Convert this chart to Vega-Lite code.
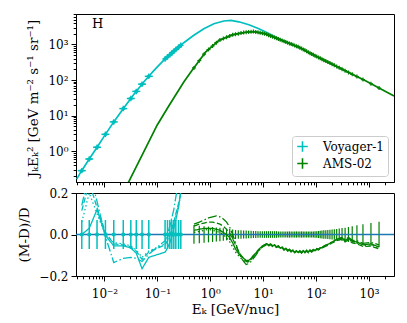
{
"$schema": "https://vega.github.io/schema/vega-lite/v6.json",
"padding": {"left": 17, "top": 7, "right": 10, "bottom": 4},
"spacing": 11,
"bounds": "flush",
"resolve": {"scale": {"color": "independent", "strokeDash": "independent"}, "legend": {"color": "independent", "strokeDash": "independent"}},
"config": {
 "font": "DejaVu Serif",
 "view": {"stroke": "black", "strokeWidth": 1},
 "axis": {"domainColor": "black", "domainWidth": 1, "tickColor": "black", "tickWidth": 1, "labelColor": "black", "titleColor": "black", "labelFont": "DejaVu Serif", "titleFont": "DejaVu Serif", "labelFontSize": 12, "titleFontSize": 13.5, "titleFontWeight": "normal", "grid": false, "labelOverlap": false, "labelFlush": false, "labelPadding": 3},
 "legend": {"labelFont": "DejaVu Serif", "labelFontSize": 12, "labelColor": "black"}
},
"datasets": {
 "voyModel": [
  {"E": 0.00299, "v": 0.162}, {"E": 0.00356, "v": 0.255}, {"E": 0.00505, "v": 0.57}, {"E": 0.00715, "v": 1.24}, {"E": 0.01013, "v": 2.77}, {"E": 0.015, "v": 6.63}, {"E": 0.0232, "v": 16.4}, {"E": 0.0358, "v": 39.2}, {"E": 0.0553, "v": 87.7}, {"E": 0.0857, "v": 184}, {"E": 0.1324, "v": 363}, {"E": 0.2048, "v": 649}, {"E": 0.316, "v": 1123}, {"E": 0.489, "v": 1824}, {"E": 0.756, "v": 2772}, {"E": 1.17, "v": 3828}, {"E": 1.81, "v": 4590}, {"E": 2.45, "v": 4740}, {"E": 3.47, "v": 4350}, {"E": 5.37, "v": 3590}, {"E": 8.3, "v": 2772}, {"E": 12.8, "v": 2032}, {"E": 19.8, "v": 1440}, {"E": 30.7, "v": 1090}
 ],
 "amsModel": [
  {"E": 0.0264, "v": 0.106}, {"E": 0.031, "v": 0.171}, {"E": 0.0553, "v": 0.957}, {"E": 0.0989, "v": 5.36}, {"E": 0.1644, "v": 18.6}, {"E": 0.316, "v": 87.7}, {"E": 0.454, "v": 187}, {"E": 0.815, "v": 608}, {"E": 1.45, "v": 1295}, {"E": 2.59, "v": 1857}, {"E": 4.65, "v": 2213}, {"E": 6.67, "v": 2312}, {"E": 11.1, "v": 1982}, {"E": 19.8, "v": 1408}, {"E": 30.7, "v": 1087}, {"E": 47.4, "v": 840}, {"E": 83.6, "v": 535}, {"E": 200, "v": 281}, {"E": 367, "v": 178}, {"E": 878, "v": 93.5}, {"E": 1545, "v": 59.6}, {"E": 2972, "v": 35.6}
 ],
 "voy": [
  {"E": 0.00373, "elo": 0.00313, "ehi": 0.00444, "f": 0.282, "rlo": -0.07, "rhi": 0.07, "m1": 0.0, "m2": 0.115, "m3": 0.06, "m4": 0.14},
  {"E": 0.00516, "elo": 0.00434, "ehi": 0.00614, "f": 0.599, "rlo": -0.07, "rhi": 0.07, "m1": 0.03, "m2": 0.25, "m3": 0.2, "m4": 0.3},
  {"E": 0.00724, "elo": 0.00608, "ehi": 0.00862, "f": 1.28, "rlo": -0.07, "rhi": 0.07, "m1": 0.12, "m2": 0.13, "m3": 0.1, "m4": 0.16},
  {"E": 0.01044, "elo": 0.00877, "ehi": 0.01242, "f": 2.96, "rlo": -0.07, "rhi": 0.07, "m1": -0.005, "m2": 0.01, "m3": 0.0, "m4": -0.01},
  {"E": 0.015, "elo": 0.0126, "ehi": 0.01785, "f": 6.63, "rlo": -0.07, "rhi": 0.07, "m1": -0.055, "m2": -0.045, "m3": -0.04, "m4": -0.135},
  {"E": 0.0227, "elo": 0.0191, "ehi": 0.027, "f": 15.7, "rlo": -0.07, "rhi": 0.07, "m1": -0.055, "m2": -0.05, "m3": -0.045, "m4": -0.115},
  {"E": 0.0315, "elo": 0.0265, "ehi": 0.0375, "f": 30.2, "rlo": -0.07, "rhi": 0.07, "m1": -0.065, "m2": -0.06, "m3": -0.055, "m4": -0.11},
  {"E": 0.04, "elo": 0.0336, "ehi": 0.0476, "f": 47.8, "rlo": -0.07, "rhi": 0.07, "m1": -0.09, "m2": -0.08, "m3": -0.075, "m4": -0.115},
  {"E": 0.0514, "elo": 0.0432, "ehi": 0.0612, "f": 76.6, "rlo": -0.07, "rhi": 0.07, "m1": -0.165, "m2": -0.12, "m3": -0.11, "m4": -0.13},
  {"E": 0.0689, "elo": 0.0579, "ehi": 0.082, "f": 127, "rlo": -0.07, "rhi": 0.07, "m1": -0.11, "m2": -0.085, "m3": -0.08, "m4": -0.095},
  {"E": 0.14, "elo": 0.1296, "ehi": 0.1512, "f": 392, "rlo": -0.07, "rhi": 0.07, "m1": -0.085, "m2": -0.05, "m3": -0.045, "m4": -0.03},
  {"E": 0.1555, "elo": 0.144, "ehi": 0.168, "f": 449, "rlo": -0.07, "rhi": 0.07, "m1": -0.065, "m2": -0.03, "m3": -0.03, "m4": 0.0},
  {"E": 0.172, "elo": 0.159, "ehi": 0.186, "f": 514, "rlo": -0.07, "rhi": 0.07, "m1": -0.04, "m2": 0.0, "m3": 0.0, "m4": 0.04},
  {"E": 0.1875, "elo": 0.1736, "ehi": 0.2025, "f": 578, "rlo": -0.07, "rhi": 0.07, "m1": -0.01, "m2": 0.03, "m3": 0.02, "m4": 0.08},
  {"E": 0.2046, "elo": 0.1894, "ehi": 0.221, "f": 649, "rlo": -0.07, "rhi": 0.07, "m1": 0.03, "m2": 0.06, "m3": 0.05, "m4": 0.12},
  {"E": 0.2233, "elo": 0.2068, "ehi": 0.2412, "f": 724, "rlo": -0.07, "rhi": 0.07, "m1": 0.07, "m2": 0.1, "m3": 0.09, "m4": 0.18},
  {"E": 0.2512, "elo": 0.2326, "ehi": 0.2713, "f": 840, "rlo": -0.07, "rhi": 0.07, "m1": 0.13, "m2": 0.15, "m3": 0.14, "m4": 0.25},
  {"E": 0.2775, "elo": 0.257, "ehi": 0.2997, "f": 950, "rlo": -0.07, "rhi": 0.07, "m1": 0.21, "m2": 0.2, "m3": 0.19, "m4": 0.3}
 ],
 "ams": [
  {"E": 0.492, "f": 219, "rlo": -0.045, "rhi": 0.045, "m1": 0.02, "m2": 0.04, "m3": 0.01, "m4": 0.05},
  {"E": 0.621, "f": 351, "rlo": -0.042, "rhi": 0.042, "m1": 0.025, "m2": 0.05, "m3": 0.015, "m4": 0.06},
  {"E": 0.764, "f": 535, "rlo": -0.04, "rhi": 0.04, "m1": 0.03, "m2": 0.055, "m3": 0.02, "m4": 0.07},
  {"E": 0.925, "f": 719, "rlo": -0.038, "rhi": 0.038, "m1": 0.03, "m2": 0.06, "m3": 0.025, "m4": 0.08},
  {"E": 1.105, "f": 908, "rlo": -0.036, "rhi": 0.036, "m1": 0.03, "m2": 0.06, "m3": 0.02, "m4": 0.085},
  {"E": 1.303, "f": 1123, "rlo": -0.034, "rhi": 0.034, "m1": 0.025, "m2": 0.055, "m3": 0.015, "m4": 0.09},
  {"E": 1.523, "f": 1337, "rlo": -0.032, "rhi": 0.032, "m1": 0.02, "m2": 0.05, "m3": 0.01, "m4": 0.085},
  {"E": 1.765, "f": 1463, "rlo": -0.03, "rhi": 0.03, "m1": 0.01, "m2": 0.04, "m3": 0.0, "m4": 0.075},
  {"E": 2.034, "f": 1592, "rlo": -0.028, "rhi": 0.028, "m1": 0.0, "m2": 0.025, "m3": -0.015, "m4": 0.06},
  {"E": 2.33, "f": 1731, "rlo": -0.026, "rhi": 0.026, "m1": -0.015, "m2": 0.005, "m3": -0.035, "m4": 0.035},
  {"E": 2.652, "f": 1871, "rlo": -0.024, "rhi": 0.024, "m1": -0.04, "m2": -0.02, "m3": -0.06, "m4": 0.0},
  {"E": 3.005, "f": 1945, "rlo": -0.022, "rhi": 0.022, "m1": -0.07, "m2": -0.05, "m3": -0.085, "m4": -0.04},
  {"E": 3.39, "f": 2009, "rlo": -0.021, "rhi": 0.021, "m1": -0.09, "m2": -0.08, "m3": -0.1, "m4": -0.08},
  {"E": 3.811, "f": 2089, "rlo": -0.02, "rhi": 0.02, "m1": -0.105, "m2": -0.1, "m3": -0.115, "m4": -0.11},
  {"E": 4.272, "f": 2157, "rlo": -0.019, "rhi": 0.019, "m1": -0.115, "m2": -0.115, "m3": -0.125, "m4": -0.13},
  {"E": 4.775, "f": 2213, "rlo": -0.019, "rhi": 0.019, "m1": -0.125, "m2": -0.13, "m3": -0.135, "m4": -0.145},
  {"E": 5.318, "f": 2254, "rlo": -0.018, "rhi": 0.018, "m1": -0.125, "m2": -0.13, "m3": -0.13, "m4": -0.14},
  {"E": 5.907, "f": 2286, "rlo": -0.018, "rhi": 0.018, "m1": -0.115, "m2": -0.12, "m3": -0.12, "m4": -0.13},
  {"E": 6.546, "f": 2312, "rlo": -0.017, "rhi": 0.017, "m1": -0.1, "m2": -0.105, "m3": -0.11, "m4": -0.115},
  {"E": 7.236, "f": 2254, "rlo": -0.017, "rhi": 0.017, "m1": -0.09, "m2": -0.095, "m3": -0.095, "m4": -0.1},
  {"E": 7.981, "f": 2198, "rlo": -0.016, "rhi": 0.016, "m1": -0.075, "m2": -0.08, "m3": -0.08, "m4": -0.085},
  {"E": 8.787, "f": 2128, "rlo": -0.016, "rhi": 0.016, "m1": -0.065, "m2": -0.07, "m3": -0.07, "m4": -0.07},
  {"E": 9.654, "f": 2075, "rlo": -0.016, "rhi": 0.016, "m1": -0.055, "m2": -0.06, "m3": -0.06, "m4": -0.06},
  {"E": 10.6, "f": 2009, "rlo": -0.016, "rhi": 0.016, "m1": -0.05, "m2": -0.055, "m3": -0.05, "m4": -0.05},
  {"E": 11.6, "f": 1932, "rlo": -0.016, "rhi": 0.016, "m1": -0.045, "m2": -0.05, "m3": -0.048, "m4": -0.045},
  {"E": 12.64, "f": 1834, "rlo": -0.016, "rhi": 0.016, "m1": -0.05, "m2": -0.055, "m3": -0.052, "m4": -0.05},
  {"E": 13.79, "f": 1742, "rlo": -0.016, "rhi": 0.016, "m1": -0.045, "m2": -0.05, "m3": -0.047, "m4": -0.045},
  {"E": 15.04, "f": 1655, "rlo": -0.016, "rhi": 0.016, "m1": -0.055, "m2": -0.058, "m3": -0.056, "m4": -0.055},
  {"E": 16.39, "f": 1581, "rlo": -0.016, "rhi": 0.016, "m1": -0.05, "m2": -0.055, "m3": -0.052, "m4": -0.05},
  {"E": 17.83, "f": 1503, "rlo": -0.016, "rhi": 0.016, "m1": -0.06, "m2": -0.063, "m3": -0.061, "m4": -0.06},
  {"E": 19.38, "f": 1426, "rlo": -0.015, "rhi": 0.015, "m1": -0.055, "m2": -0.058, "m3": -0.056, "m4": -0.055},
  {"E": 20.99, "f": 1363, "rlo": -0.015, "rhi": 0.015, "m1": -0.065, "m2": -0.068, "m3": -0.066, "m4": -0.065},
  {"E": 22.79, "f": 1294, "rlo": -0.015, "rhi": 0.015, "m1": -0.06, "m2": -0.064, "m3": -0.062, "m4": -0.06},
  {"E": 24.74, "f": 1237, "rlo": -0.015, "rhi": 0.015, "m1": -0.072, "m2": -0.075, "m3": -0.073, "m4": -0.07},
  {"E": 26.79, "f": 1175, "rlo": -0.015, "rhi": 0.015, "m1": -0.066, "m2": -0.07, "m3": -0.068, "m4": -0.066},
  {"E": 28.99, "f": 1123, "rlo": -0.015, "rhi": 0.015, "m1": -0.078, "m2": -0.08, "m3": -0.079, "m4": -0.076},
  {"E": 31.34, "f": 1074, "rlo": -0.015, "rhi": 0.015, "m1": -0.072, "m2": -0.075, "m3": -0.073, "m4": -0.071},
  {"E": 33.84, "f": 1026, "rlo": -0.015, "rhi": 0.015, "m1": -0.082, "m2": -0.085, "m3": -0.083, "m4": -0.08},
  {"E": 36.54, "f": 981, "rlo": -0.015, "rhi": 0.015, "m1": -0.076, "m2": -0.079, "m3": -0.077, "m4": -0.075},
  {"E": 39.44, "f": 937, "rlo": -0.015, "rhi": 0.015, "m1": -0.085, "m2": -0.088, "m3": -0.086, "m4": -0.084},
  {"E": 42.54, "f": 896, "rlo": -0.015, "rhi": 0.015, "m1": -0.078, "m2": -0.081, "m3": -0.079, "m4": -0.077},
  {"E": 45.84, "f": 857, "rlo": -0.015, "rhi": 0.015, "m1": -0.086, "m2": -0.089, "m3": -0.087, "m4": -0.085},
  {"E": 49.39, "f": 813, "rlo": -0.015, "rhi": 0.015, "m1": -0.079, "m2": -0.082, "m3": -0.08, "m4": -0.078},
  {"E": 53.19, "f": 767, "rlo": -0.015, "rhi": 0.015, "m1": -0.087, "m2": -0.09, "m3": -0.088, "m4": -0.086},
  {"E": 57.24, "f": 724, "rlo": -0.015, "rhi": 0.015, "m1": -0.078, "m2": -0.082, "m3": -0.08, "m4": -0.078},
  {"E": 61.59, "f": 683, "rlo": -0.015, "rhi": 0.015, "m1": -0.086, "m2": -0.089, "m3": -0.087, "m4": -0.085},
  {"E": 66.29, "f": 645, "rlo": -0.015, "rhi": 0.015, "m1": -0.077, "m2": -0.08, "m3": -0.078, "m4": -0.076},
  {"E": 71.34, "f": 604, "rlo": -0.015, "rhi": 0.015, "m1": -0.085, "m2": -0.088, "m3": -0.086, "m4": -0.084},
  {"E": 76.74, "f": 570, "rlo": -0.015, "rhi": 0.015, "m1": -0.075, "m2": -0.079, "m3": -0.077, "m4": -0.075},
  {"E": 82.54, "f": 541, "rlo": -0.015, "rhi": 0.015, "m1": -0.082, "m2": -0.085, "m3": -0.083, "m4": -0.081},
  {"E": 88.79, "f": 511, "rlo": -0.015, "rhi": 0.015, "m1": -0.073, "m2": -0.077, "m3": -0.075, "m4": -0.073},
  {"E": 95.54, "f": 482, "rlo": -0.016, "rhi": 0.016, "m1": -0.078, "m2": -0.081, "m3": -0.079, "m4": -0.077},
  {"E": 103.0, "f": 458, "rlo": -0.016, "rhi": 0.016, "m1": -0.068, "m2": -0.072, "m3": -0.07, "m4": -0.068},
  {"E": 111.0, "f": 432, "rlo": -0.017, "rhi": 0.017, "m1": -0.072, "m2": -0.075, "m3": -0.073, "m4": -0.071},
  {"E": 119.6, "f": 408, "rlo": -0.018, "rhi": 0.018, "m1": -0.063, "m2": -0.067, "m3": -0.065, "m4": -0.063},
  {"E": 129.1, "f": 387, "rlo": -0.019, "rhi": 0.019, "m1": -0.064, "m2": -0.067, "m3": -0.065, "m4": -0.063},
  {"E": 140.1, "f": 363, "rlo": -0.02, "rhi": 0.02, "m1": -0.057, "m2": -0.061, "m3": -0.059, "m4": -0.056},
  {"E": 152.6, "f": 342, "rlo": -0.021, "rhi": 0.021, "m1": -0.052, "m2": -0.056, "m3": -0.054, "m4": -0.051},
  {"E": 166.6, "f": 319, "rlo": -0.022, "rhi": 0.022, "m1": -0.048, "m2": -0.052, "m3": -0.05, "m4": -0.047},
  {"E": 182.6, "f": 299, "rlo": -0.023, "rhi": 0.023, "m1": -0.042, "m2": -0.047, "m3": -0.044, "m4": -0.041},
  {"E": 200.6, "f": 279, "rlo": -0.024, "rhi": 0.024, "m1": -0.036, "m2": -0.041, "m3": -0.038, "m4": -0.035},
  {"E": 221.1, "f": 259, "rlo": -0.025, "rhi": 0.025, "m1": -0.03, "m2": -0.036, "m3": -0.033, "m4": -0.03},
  {"E": 245.1, "f": 240, "rlo": -0.027, "rhi": 0.027, "m1": -0.024, "m2": -0.03, "m3": -0.027, "m4": -0.024},
  {"E": 274.1, "f": 221, "rlo": -0.029, "rhi": 0.029, "m1": -0.02, "m2": -0.026, "m3": -0.022, "m4": -0.018},
  {"E": 309.6, "f": 202, "rlo": -0.031, "rhi": 0.031, "m1": -0.016, "m2": -0.024, "m3": -0.019, "m4": -0.014},
  {"E": 353.6, "f": 183, "rlo": -0.033, "rhi": 0.033, "m1": -0.03, "m2": -0.036, "m3": -0.032, "m4": -0.026},
  {"E": 409.1, "f": 164, "rlo": -0.036, "rhi": 0.036, "m1": -0.018, "m2": -0.026, "m3": -0.021, "m4": -0.014},
  {"E": 482.1, "f": 145, "rlo": -0.04, "rhi": 0.04, "m1": -0.032, "m2": -0.04, "m3": -0.035, "m4": -0.028},
  {"E": 591.6, "f": 125, "rlo": -0.044, "rhi": 0.044, "m1": -0.036, "m2": -0.045, "m3": -0.04, "m4": -0.03},
  {"E": 769.1, "f": 103, "rlo": -0.05, "rhi": 0.05, "m1": -0.05, "m2": -0.058, "m3": -0.053, "m4": -0.043},
  {"E": 1089, "f": 78.6, "rlo": -0.055, "rhi": 0.055, "m1": -0.045, "m2": -0.056, "m3": -0.05, "m4": -0.038},
  {"E": 1549, "f": 59.6, "rlo": -0.062, "rhi": 0.062, "m1": -0.06, "m2": -0.07, "m3": -0.065, "m4": -0.05}
 ]
},
"vconcat": [
 {
  "width": 318, "height": 168,
  "layer": [
   {"data": {"name": "voyModel"}, "mark": {"type": "line", "color": "#00bfbf", "strokeWidth": 1.7, "clip": true},
    "encoding": {
     "x": {"field": "E", "type": "quantitative", "scale": {"type": "log", "domain": [0.0029, 2970], "nice": false},
      "axis": {"title": null, "labels": false,
       "values": [0.003,0.004,0.005,0.006,0.007,0.008,0.009,0.01,0.02,0.03,0.04,0.05,0.06,0.07,0.08,0.09,0.1,0.2,0.3,0.4,0.5,0.6,0.7,0.8,0.9,1,2,3,4,5,6,7,8,9,10,20,30,40,50,60,70,80,90,100,200,300,400,500,600,700,800,900,1000,2000],
       "tickSize": {"condition": {"test": "abs(log(datum.value)/LN10 - round(log(datum.value)/LN10)) < 0.001", "value": 5}, "value": 2.8}}},
     "y": {"field": "v", "type": "quantitative", "scale": {"type": "log", "domain": [0.135, 7210], "nice": false},
      "axis": {"title": "JₖEₖ² [GeV m⁻² s⁻¹ sr⁻¹]", "titlePadding": 7,
       "values": [0.2,0.3,0.4,0.5,0.6,0.7,0.8,0.9,1,2,3,4,5,6,7,8,9,10,20,30,40,50,60,70,80,90,100,200,300,400,500,600,700,800,900,1000,2000,3000,4000,5000,6000,7000],
       "labelExpr": "abs(log(datum.value)/LN10 - round(log(datum.value)/LN10)) < 0.001 ? ['10⁰','10¹','10²','10³'][round(log(datum.value)/LN10)] : ''",
       "tickSize": {"condition": {"test": "abs(log(datum.value)/LN10 - round(log(datum.value)/LN10)) < 0.001", "value": 5}, "value": 2.8}}}
    }},
   {"data": {"name": "amsModel"}, "mark": {"type": "line", "color": "#008000", "strokeWidth": 1.7, "clip": true},
    "encoding": {"x": {"field": "E", "type": "quantitative"}, "y": {"field": "v", "type": "quantitative"}}},
   {"data": {"name": "voy"}, "mark": {"type": "rule", "color": "#00bfbf", "strokeWidth": 1.5},
    "encoding": {"x": {"field": "elo", "type": "quantitative"}, "x2": {"field": "ehi"}, "y": {"field": "f", "type": "quantitative"}}},
   {"data": {"name": "voy"}, "mark": {"type": "point", "shape": "circle", "filled": true, "color": "#00bfbf", "size": 14, "opacity": 1},
    "encoding": {"x": {"field": "E", "type": "quantitative"}, "y": {"field": "f", "type": "quantitative"}}},
   {"data": {"name": "voy"}, "mark": {"type": "point", "shape": "M-1,0H1M0,-1V1", "filled": false, "strokeWidth": 1.4, "size": 30, "opacity": 1},
    "encoding": {"x": {"field": "E", "type": "quantitative"}, "y": {"field": "f", "type": "quantitative"},
     "color": {"datum": "Voyager-1", "type": "nominal", "scale": {"domain": ["Voyager-1", "AMS-02"], "range": ["#00bfbf", "#008000"]},
      "legend": {"title": null, "orient": "bottom-right", "offset": 6, "strokeColor": "#cccccc", "fillColor": "white", "cornerRadius": 3, "padding": 4, "symbolSize": 110, "symbolStrokeWidth": 1.6, "rowPadding": 0, "labelOffset": 14, "labelFontSize": 12}}}},
   {"data": {"name": "ams"}, "mark": {"type": "point", "shape": "M-1,0H1M0,-1V1", "filled": false, "strokeWidth": 1.2, "size": 16, "opacity": 1},
    "encoding": {"x": {"field": "E", "type": "quantitative"}, "y": {"field": "f", "type": "quantitative"},
     "color": {"datum": "AMS-02", "type": "nominal"}}},
   {"data": {"values": [{}]}, "mark": {"type": "text", "text": "H", "align": "left", "baseline": "middle", "fontSize": 13, "font": "DejaVu Serif", "color": "black"},
    "encoding": {"x": {"datum": 0.0058, "type": "quantitative"}, "y": {"datum": 3700, "type": "quantitative"}}}
  ]
 },
 {
  "width": 318, "height": 83,
  "layer": [
   {"data": {"name": "voy"}, "mark": {"type": "rule", "color": "#00bfbf", "strokeWidth": 1.5},
    "encoding": {
     "x": {"field": "E", "type": "quantitative", "scale": {"type": "log", "domain": [0.0029, 2970], "nice": false},
      "axis": {"title": "Eₖ [GeV/nuc]", "titlePadding": 3, "labelPadding": 7,
       "values": [0.003,0.004,0.005,0.006,0.007,0.008,0.009,0.01,0.02,0.03,0.04,0.05,0.06,0.07,0.08,0.09,0.1,0.2,0.3,0.4,0.5,0.6,0.7,0.8,0.9,1,2,3,4,5,6,7,8,9,10,20,30,40,50,60,70,80,90,100,200,300,400,500,600,700,800,900,1000,2000],
       "labelExpr": "abs(log(datum.value)/LN10 - round(log(datum.value)/LN10)) < 0.001 ? ['10⁻³','10⁻²','10⁻¹','10⁰','10¹','10²','10³'][round(log(datum.value)/LN10)+3] : ''",
       "tickSize": {"condition": {"test": "abs(log(datum.value)/LN10 - round(log(datum.value)/LN10)) < 0.001", "value": 5}, "value": 2.8}}},
     "y": {"field": "rlo", "type": "quantitative", "scale": {"domain": [-0.2, 0.2], "nice": false},
      "axis": {"title": "(M-D)/D", "titlePadding": 7, "values": [-0.2, 0, 0.2], "format": ".1f", "tickSize": 5}},
     "y2": {"field": "rhi"}
    }},
   {"data": {"name": "ams"}, "mark": {"type": "rule", "color": "#008000", "strokeWidth": 1.2},
    "encoding": {"x": {"field": "E", "type": "quantitative"}, "y": {"field": "rlo", "type": "quantitative"}, "y2": {"field": "rhi"}}},
   {"data": {"values": [{}]}, "mark": {"type": "rule", "color": "#1f77b4", "strokeWidth": 1.4},
    "encoding": {"y": {"datum": 0, "type": "quantitative"}}},
   {"data": {"name": "voy"}, "mark": {"type": "point", "shape": "circle", "filled": true, "color": "#00bfbf", "size": 18, "opacity": 1},
    "encoding": {"x": {"field": "E", "type": "quantitative"}, "y": {"datum": 0, "type": "quantitative"}}},
   {"data": {"name": "voy"}, "transform": [{"fold": ["m1", "m2", "m3", "m4"], "as": ["model", "r"]}],
    "mark": {"type": "line", "color": "#00bfbf", "strokeWidth": 1.3, "clip": true},
    "encoding": {"x": {"field": "E", "type": "quantitative"}, "y": {"field": "r", "type": "quantitative"},
     "strokeDash": {"field": "model", "type": "nominal", "scale": {"domain": ["m1", "m2", "m3", "m4"], "range": [[1, 0], [5.5, 2.4], [1.5, 2.5], [9, 2.4, 1.5, 2.4]]}, "legend": null}}},
   {"data": {"name": "ams"}, "transform": [{"fold": ["m1", "m2", "m3", "m4"], "as": ["model", "r"]}],
    "mark": {"type": "line", "color": "#008000", "strokeWidth": 1.3, "clip": true},
    "encoding": {"x": {"field": "E", "type": "quantitative"}, "y": {"field": "r", "type": "quantitative"},
     "strokeDash": {"field": "model", "type": "nominal", "legend": null}}}
  ]
 }
]
}
